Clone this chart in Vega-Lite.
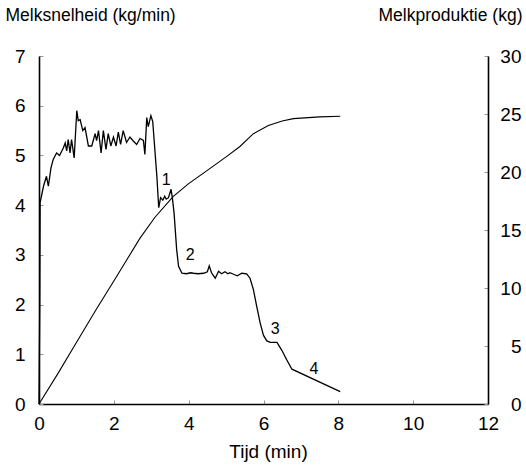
{
  "$schema": "https://vega.github.io/schema/vega-lite/v6.json",
  "width": 449,
  "height": 348,
  "autosize": {"type": "none"},
  "padding": {"left": 39, "top": 56, "right": 38, "bottom": 64},
  "background": "white",
  "config": {
    "view": {"stroke": null},
    "font": "Liberation Sans",
    "axis": {
      "grid": false,
      "domainColor": "black",
      "domainWidth": 1.6,
      "tickColor": "#999999",
      "tickWidth": 1,
      "labelFont": "Liberation Sans",
      "titleFont": "Liberation Sans",
      "labelColor": "black",
      "titleColor": "black",
      "labelFontSize": 19,
      "titleFontWeight": "normal",
      "labelFlush": false,
      "labelOverlap": false
    }
  },
  "datasets": {
    "rate": [
      {"t": 0.00, "v": 0.0}, {"t": 0.02, "v": 2.0}, {"t": 0.03, "v": 4.05}, {"t": 0.12, "v": 4.38},
      {"t": 0.20, "v": 4.58}, {"t": 0.25, "v": 4.38}, {"t": 0.32, "v": 4.75}, {"t": 0.38, "v": 4.92},
      {"t": 0.47, "v": 5.05}, {"t": 0.55, "v": 5.0}, {"t": 0.61, "v": 5.09}, {"t": 0.65, "v": 5.15},
      {"t": 0.70, "v": 5.25}, {"t": 0.74, "v": 5.09}, {"t": 0.78, "v": 5.32}, {"t": 0.83, "v": 5.05},
      {"t": 0.87, "v": 5.32}, {"t": 0.94, "v": 4.95}, {"t": 1.01, "v": 5.9}, {"t": 1.05, "v": 5.7},
      {"t": 1.10, "v": 5.72}, {"t": 1.17, "v": 5.5}, {"t": 1.23, "v": 5.56}, {"t": 1.32, "v": 5.19},
      {"t": 1.41, "v": 5.19}, {"t": 1.50, "v": 5.44}, {"t": 1.54, "v": 5.30}, {"t": 1.59, "v": 5.5},
      {"t": 1.66, "v": 5.05}, {"t": 1.72, "v": 5.5}, {"t": 1.79, "v": 5.12}, {"t": 1.85, "v": 5.44},
      {"t": 1.92, "v": 5.19}, {"t": 1.99, "v": 5.37}, {"t": 2.06, "v": 5.19}, {"t": 2.12, "v": 5.47},
      {"t": 2.18, "v": 5.22}, {"t": 2.25, "v": 5.5}, {"t": 2.34, "v": 5.26}, {"t": 2.43, "v": 5.37},
      {"t": 2.52, "v": 5.29}, {"t": 2.61, "v": 5.22}, {"t": 2.70, "v": 5.34}, {"t": 2.79, "v": 5.30},
      {"t": 2.83, "v": 5.02}, {"t": 2.88, "v": 5.76}, {"t": 2.92, "v": 5.58}, {"t": 2.99, "v": 5.8},
      {"t": 3.04, "v": 5.68}, {"t": 3.10, "v": 5.08}, {"t": 3.15, "v": 4.58}, {"t": 3.20, "v": 3.95},
      {"t": 3.25, "v": 4.15}, {"t": 3.31, "v": 4.10}, {"t": 3.36, "v": 4.18}, {"t": 3.40, "v": 4.12},
      {"t": 3.46, "v": 4.15}, {"t": 3.53, "v": 4.32}, {"t": 3.57, "v": 4.11}, {"t": 3.61, "v": 3.84},
      {"t": 3.68, "v": 3.10}, {"t": 3.73, "v": 2.77}, {"t": 3.82, "v": 2.63}, {"t": 3.94, "v": 2.62},
      {"t": 4.05, "v": 2.64}, {"t": 4.13, "v": 2.63}, {"t": 4.25, "v": 2.62}, {"t": 4.40, "v": 2.63},
      {"t": 4.50, "v": 2.66}, {"t": 4.55, "v": 2.78}, {"t": 4.61, "v": 2.64}, {"t": 4.71, "v": 2.53},
      {"t": 4.80, "v": 2.67}, {"t": 4.88, "v": 2.62}, {"t": 4.97, "v": 2.66}, {"t": 5.05, "v": 2.62},
      {"t": 5.10, "v": 2.64}, {"t": 5.20, "v": 2.61}, {"t": 5.30, "v": 2.58}, {"t": 5.42, "v": 2.63},
      {"t": 5.55, "v": 2.62}, {"t": 5.64, "v": 2.53}, {"t": 5.73, "v": 2.30}, {"t": 5.82, "v": 1.96},
      {"t": 5.91, "v": 1.63}, {"t": 6.00, "v": 1.38}, {"t": 6.09, "v": 1.27}, {"t": 6.18, "v": 1.24},
      {"t": 6.36, "v": 1.24}, {"t": 6.49, "v": 1.08}, {"t": 6.62, "v": 0.89}, {"t": 6.76, "v": 0.70},
      {"t": 8.05, "v": 0.25}
    ],
    "cum": [
      {"t": 0, "kg": 0}, {"t": 0.5, "kg": 2.6}, {"t": 1.0, "kg": 5.3}, {"t": 1.52, "kg": 8.1},
      {"t": 2.0, "kg": 10.6}, {"t": 2.7, "kg": 14.3}, {"t": 3.1, "kg": 16.1}, {"t": 3.59, "kg": 17.9},
      {"t": 4.0, "kg": 19.0}, {"t": 4.48, "kg": 20.1}, {"t": 5.0, "kg": 21.3}, {"t": 5.37, "kg": 22.2},
      {"t": 5.73, "kg": 23.3}, {"t": 6.13, "kg": 24.0}, {"t": 6.5, "kg": 24.4}, {"t": 6.8, "kg": 24.6},
      {"t": 7.5, "kg": 24.75}, {"t": 8.05, "kg": 24.8}
    ],
    "labels": [
      {"t": 3.4, "v": 4.5, "lab": "1"},
      {"t": 4.04, "v": 3.0, "lab": "2"},
      {"t": 6.31, "v": 1.5, "lab": "3"},
      {"t": 7.35, "v": 0.7, "lab": "4"}
    ]
  },
  "layer": [
    {
      "data": {"name": "rate"},
      "mark": {"type": "line", "color": "black", "strokeWidth": 1.3, "interpolate": "linear"},
      "encoding": {
        "x": {
          "field": "t", "type": "quantitative",
          "scale": {"domain": [0, 12], "nice": false, "zero": false},
          "axis": {
            "orient": "bottom", "values": [0, 2, 4, 6, 8, 10, 12], "tickSize": -4,
            "labelPadding": 14, "title": "Tijd (min)", "titleFontSize": 19,
            "titleX": 229, "titleY": 53, "titleBaseline": "alphabetic", "titleAnchor": null
          }
        },
        "y": {
          "field": "v", "type": "quantitative",
          "scale": {"domain": [0, 7], "nice": false},
          "axis": {
            "orient": "left", "values": [0, 1, 2, 3, 4, 5, 6, 7], "tickSize": -4,
            "labelPadding": 18, "title": "Melksnelheid (kg/min)", "titleFontSize": 17.5,
            "titleAngle": 0, "titleAlign": "left", "titleX": -34, "titleY": -36,
            "titleBaseline": "alphabetic"
          }
        }
      }
    },
    {
      "data": {"name": "cum"},
      "mark": {"type": "line", "color": "black", "strokeWidth": 1.1},
      "encoding": {
        "x": {"field": "t", "type": "quantitative"},
        "y": {
          "field": "kg", "type": "quantitative",
          "scale": {"domain": [0, 30], "nice": false},
          "axis": {
            "orient": "right", "values": [0, 5, 10, 15, 20, 25, 30], "tickSize": -4,
            "labelAlign": "right", "labelPadding": 37, "title": "Melkproduktie (kg)", "titleFontSize": 17.5,
            "titleAngle": 0, "titleAlign": "right", "titleX": 34, "titleY": -36,
            "titleBaseline": "alphabetic"
          }
        }
      }
    },
    {
      "data": {"name": "labels"},
      "mark": {"type": "text", "fontSize": 16, "font": "Liberation Sans", "color": "black"},
      "encoding": {
        "x": {"field": "t", "type": "quantitative"},
        "y": {"field": "v", "type": "quantitative", "scale": {"domain": [0, 7], "nice": false}, "axis": null},
        "text": {"field": "lab"}
      }
    }
  ],
  "resolve": {"scale": {"y": "independent"}}
}
